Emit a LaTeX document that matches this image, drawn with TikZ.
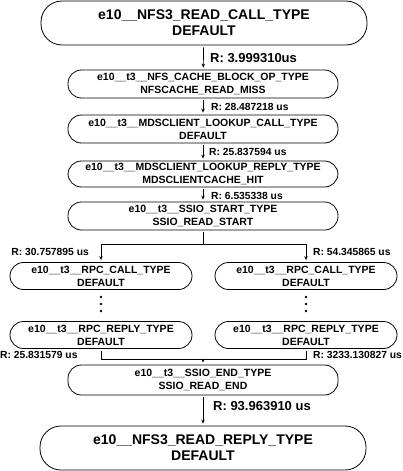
\documentclass[tikz,border=0pt]{standalone}
\usepackage{fontspec}
\setmainfont{Liberation Sans}
\usetikzlibrary{arrows.meta}
\tikzset{
  evt/.style={draw,line width=0.8pt,rounded corners=13.5pt,minimum width=270pt,minimum height=28pt,
    align=center,inner sep=1pt,font=\fontsize{10.5}{13}\selectfont\bfseries},
  bigevt/.style={evt,rounded corners=21pt,minimum width=326pt,minimum height=44pt,
    font=\fontsize{14}{16}\selectfont\bfseries},
  rpcevt/.style={evt,minimum width=182pt,minimum height=27pt},
  lbl/.style={inner sep=0pt,font=\fontsize{10.3}{12}\selectfont\bfseries},
  biglbl/.style={lbl,font=\fontsize{13}{15}\selectfont\bfseries},
  flow/.style={-{Stealth[length=4pt,width=3.5pt]},line width=0.7pt,shorten <=2pt,shorten >=2pt},
  wire/.style={line width=0.7pt}
}
\begin{document}
\begin{tikzpicture}[x=1pt,y=1pt]
\useasboundingbox (0,0) rectangle (403,-471);
% main chain
\node[bigevt] (rdcall) at (204,-23) {e10\_\_NFS3\_READ\_CALL\_TYPE\\DEFAULT};
\node[evt] (nfscache) at (203,-84) {e10\_\_t3\_\_NFS\_CACHE\_BLOCK\_OP\_TYPE\\NFSCACHE\_READ\_MISS};
\node[evt] (mdscall) at (203,-129) {e10\_\_t3\_\_MDSCLIENT\_LOOKUP\_CALL\_TYPE\\DEFAULT};
\node[evt,minimum height=26pt] (mdsreply) at (203,-174) {e10\_\_t3\_\_MDSCLIENT\_LOOKUP\_REPLY\_TYPE\\MDSCLIENTCACHE\_HIT};
\node[evt] (ssiostart) at (203,-216) {e10\_\_t3\_\_SSIO\_START\_TYPE\\SSIO\_READ\_START};
% two rpc branches
\node[rpcevt] (rpccallL) at (101,-276) {e10\_\_t3\_\_RPC\_CALL\_TYPE\\DEFAULT};
\node[rpcevt] (rpccallR) at (306,-276) {e10\_\_t3\_\_RPC\_CALL\_TYPE\\DEFAULT};
\node[rpcevt] (rpcreplyL) at (101,-335) {e10\_\_t3\_\_RPC\_REPLY\_TYPE\\DEFAULT};
\node[rpcevt] (rpcreplyR) at (306,-335) {e10\_\_t3\_\_RPC\_REPLY\_TYPE\\DEFAULT};
\node[evt,minimum height=30pt] (ssioend) at (203,-380) {e10\_\_t3\_\_SSIO\_END\_TYPE\\SSIO\_READ\_END};
\node[bigevt] (rdreply) at (203,-448) {e10\_\_NFS3\_READ\_REPLY\_TYPE\\DEFAULT};
% dots
\foreach \dy in {297,304,311} {
  \fill (101,-\dy) circle (1.3);
  \fill (306,-\dy) circle (1.3);
}
\coordinate (split) at (203,-244);
\coordinate (merge) at (203,-359);
% connectors
\draw[flow] (rdcall) -- (nfscache);
\draw[flow] (nfscache) -- (mdscall);
\draw[flow] (mdscall) -- (mdsreply);
\draw[flow] (mdsreply) -- (ssiostart);
\draw[wire,shorten <=2pt] (ssiostart) -- (split);
\draw[flow,shorten <=0pt] (split) -| (rpccallL);
\draw[flow,shorten <=0pt] (split) -| (rpccallR);
\draw[wire,shorten <=2pt] (rpcreplyL) |- (merge);
\draw[wire,shorten <=2pt] (rpcreplyR) |- (merge);
\draw[flow,shorten <=0pt] (merge) -- (ssioend);
\draw[flow] (ssioend) -- (rdreply);
% labels
\node[biglbl,anchor=west] (r1) at (210,-58) {R: 3.999310us};
\node[lbl,anchor=west] (r2) at (211,-107) {R: 28.487218 us};
\node[lbl,anchor=west] (r3) at (209,-152) {R: 25.837594 us};
\node[lbl,anchor=west] (r4) at (211,-196) {R: 6.535338 us};
\node[lbl,anchor=east] (r5) at (89,-252) {R: 30.757895 us};
\node[lbl,anchor=west] (r6) at (313,-252) {R: 54.345865 us};
\node[lbl,anchor=west] (r7) at (0,-355) {R: 25.831579 us};
\node[lbl,anchor=west] (r8) at (313,-355) {R: 3233.130827 us};
\node[biglbl,anchor=west] (r9) at (213,-406) {R: 93.963910 us};
\end{tikzpicture}
\end{document}
